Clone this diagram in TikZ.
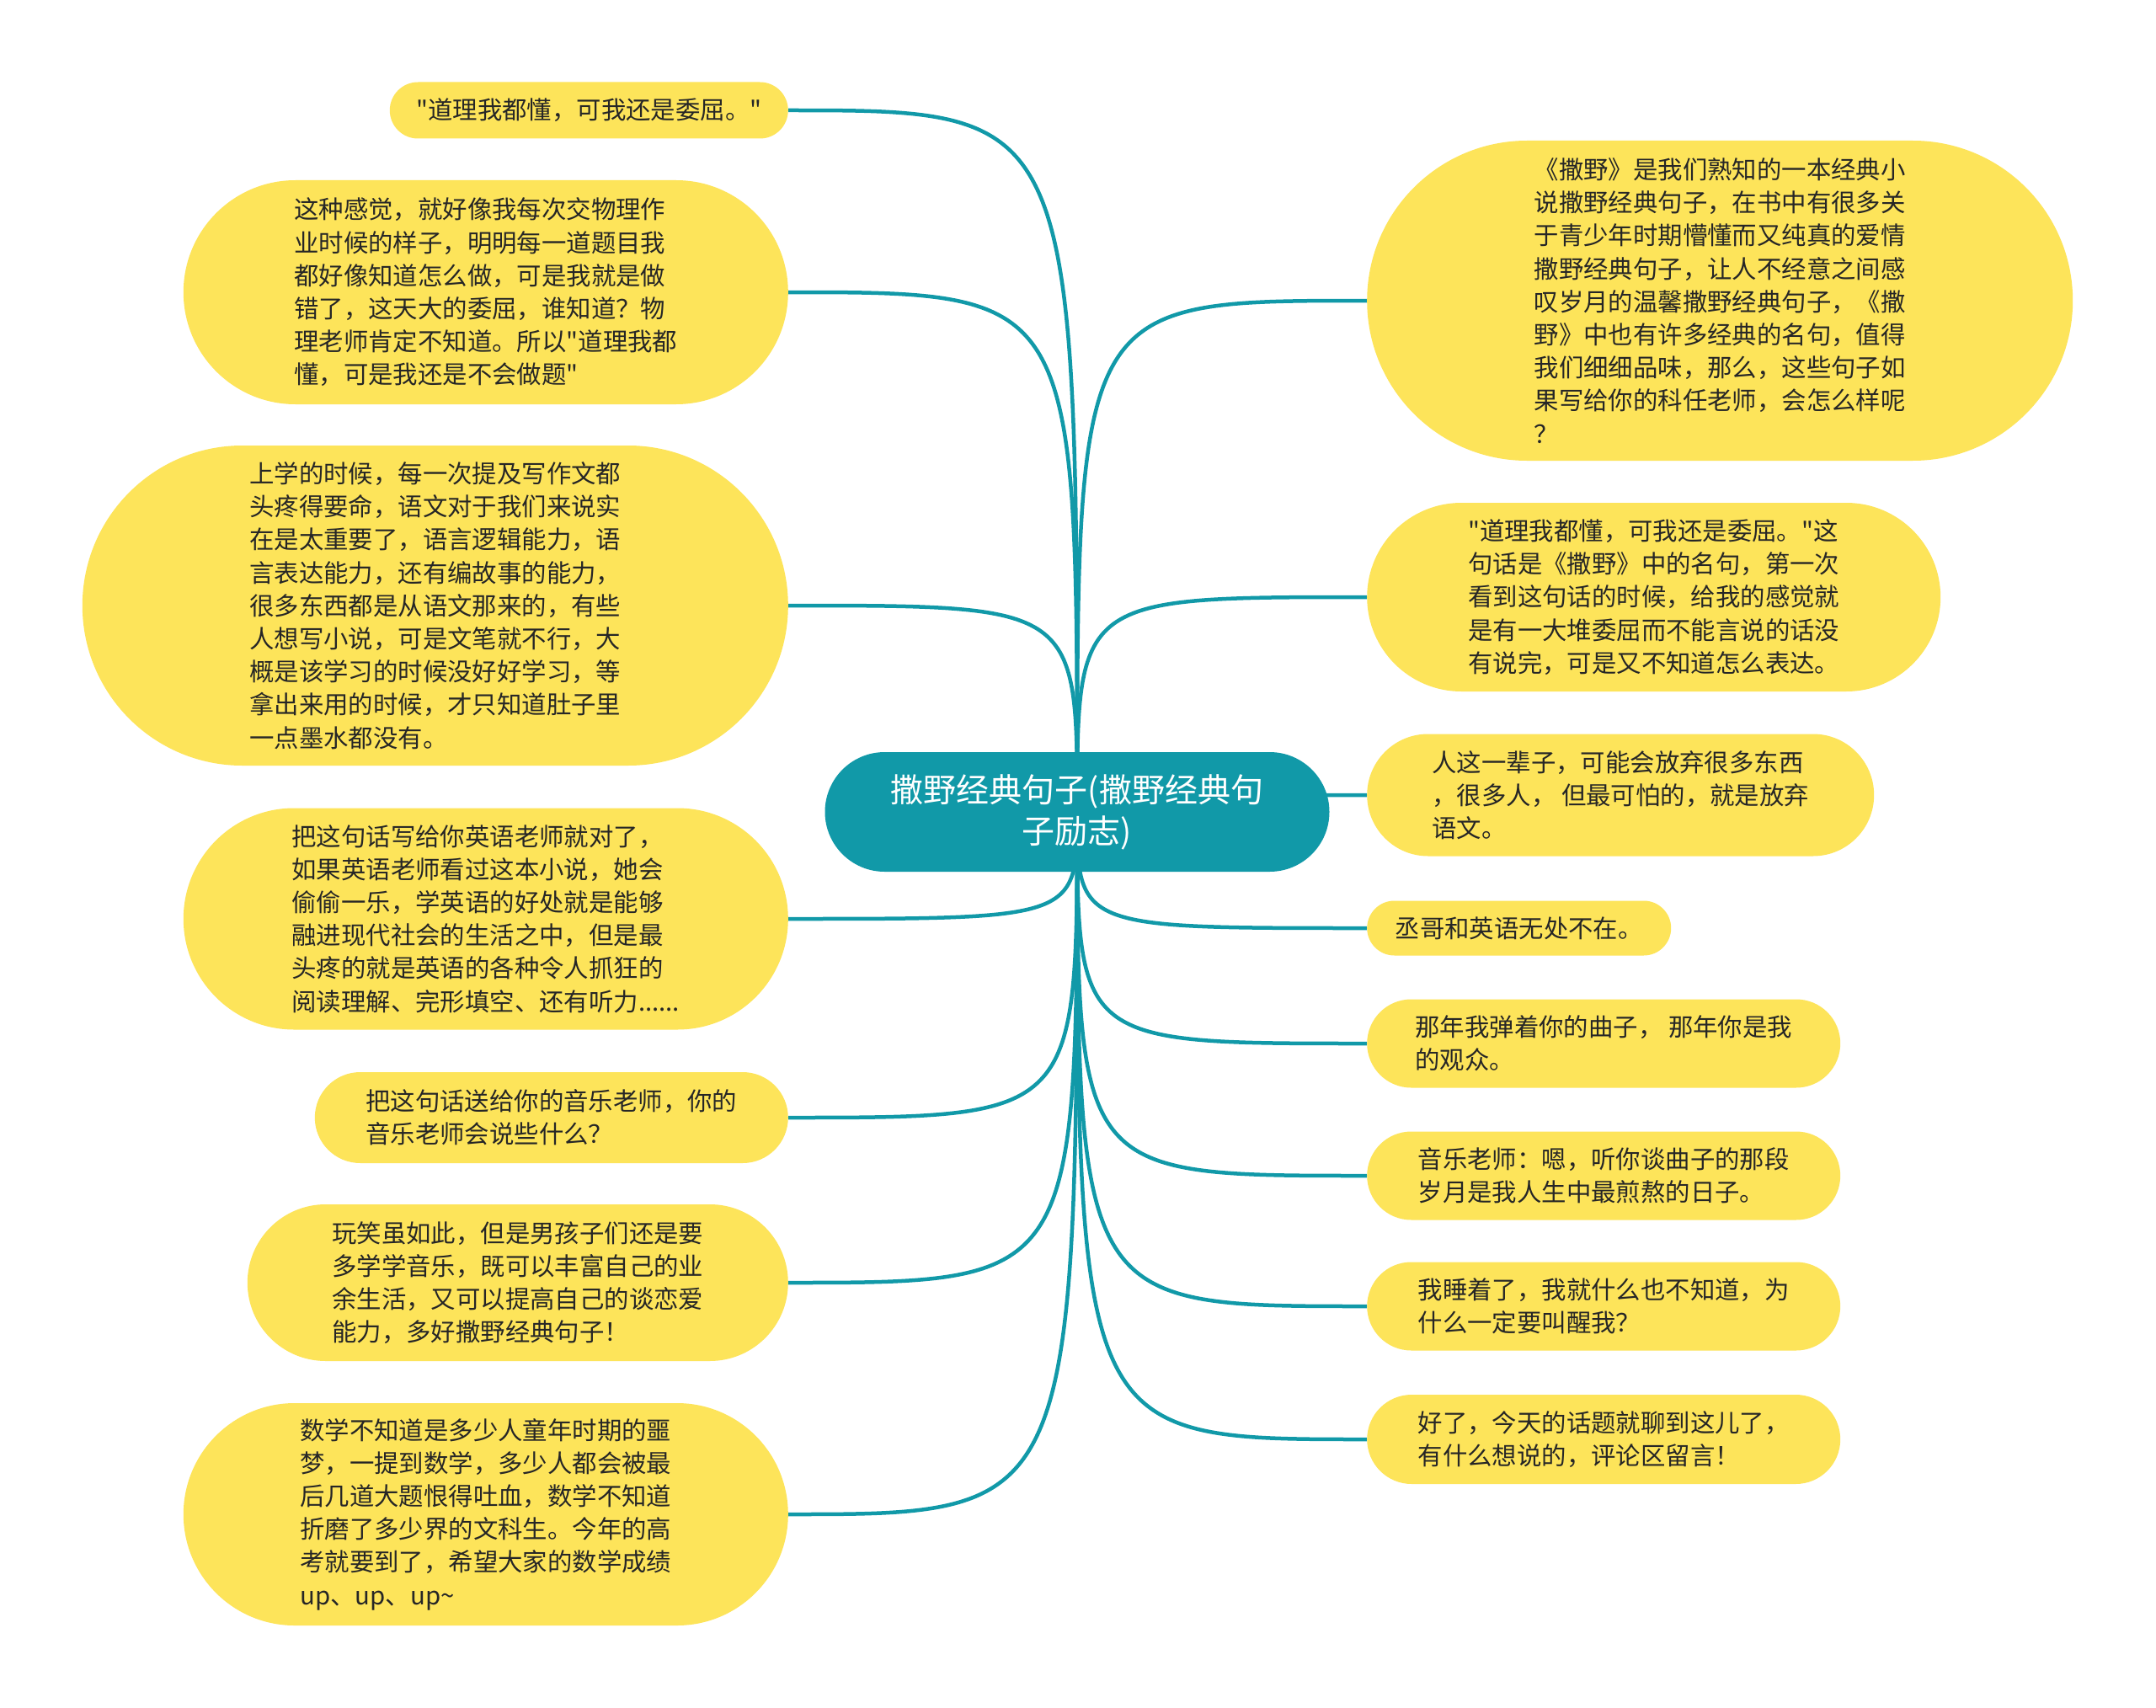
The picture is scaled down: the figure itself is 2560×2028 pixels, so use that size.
\documentclass[tikz,border=0pt]{standalone}
\usepackage{fontspec}
\setmainfont{Noto Sans CJK SC}
\usepackage{tikz}
\usetikzlibrary{shapes.misc,backgrounds}
\usepackage{xcolor}
\definecolor{mapteal}{HTML}{1199A8}
\definecolor{mapyellow}{HTML}{FDE45A}
\definecolor{maptext}{HTML}{262626}

\tikzset{
  topic/.style={rounded rectangle, fill=mapteal, text=white, inner sep=0pt,
    align=center, font=\fontsize{39}{49}\selectfont},
  leaf/.style={rounded rectangle, fill=mapyellow, text=maptext, inner sep=0pt,
    align=left, font=\fontsize{29.4}{39.2}\selectfont},
  branch/.style={mapteal, line width=4.5pt},
}
\newcommand{\qt}{\textquotedbl}

\begin{document}
\begin{tikzpicture}[x=1pt, y=-1pt]
  \useasboundingbox (0,0) rectangle (2560,2028);

  % Central topic
  \node[topic, minimum width=599pt, minimum height=142pt] (root) at (1279,964)
    {撒野经典句子(撒野经典句\\子励志)};

  % Left branch
  \node[leaf, anchor=east, minimum width=473pt, minimum height=67pt] (l1) at (936,131)
    {\qt 道理我都懂，可我还是委屈。\qt};
  \node[leaf, anchor=east, minimum width=718pt, minimum height=266pt] (l2) at (936,347)
    {这种感觉，就好像我每次交物理作\\业时候的样子，明明每一道题目我\\都好像知道怎么做，可是我就是做\\错了，这天大的委屈，谁知道？物\\理老师肯定不知道。所以\qt 道理我都\\懂，可是我还是不会做题\qt};
  \node[leaf, anchor=east, minimum width=838pt, minimum height=380pt] (l3) at (936,719)
    {上学的时候，每一次提及写作文都\\头疼得要命，语文对于我们来说实\\在是太重要了，语言逻辑能力，语\\言表达能力，还有编故事的能力，\\很多东西都是从语文那来的，有些\\人想写小说，可是文笔就不行，大\\概是该学习的时候没好好学习，等\\拿出来用的时候，才只知道肚子里\\一点墨水都没有。};
  \node[leaf, anchor=east, minimum width=718pt, minimum height=263pt] (l4) at (936,1091)
    {把这句话写给你英语老师就对了，\\如果英语老师看过这本小说，她会\\偷偷一乐，学英语的好处就是能够\\融进现代社会的生活之中，但是最\\头疼的就是英语的各种令人抓狂的\\阅读理解、完形填空、还有听力......};
  \node[leaf, anchor=east, minimum width=562pt, minimum height=108pt] (l5) at (936,1327)
    {把这句话送给你的音乐老师，你的\\音乐老师会说些什么？};
  \node[leaf, anchor=east, minimum width=642pt, minimum height=186pt] (l6) at (936,1523)
    {玩笑虽如此，但是男孩子们还是要\\多学学音乐，既可以丰富自己的业\\余生活，又可以提高自己的谈恋爱\\能力，多好撒野经典句子！};
  \node[leaf, anchor=east, minimum width=718pt, minimum height=264pt] (l7) at (936,1798)
    {数学不知道是多少人童年时期的噩\\梦，一提到数学，多少人都会被最\\后几道大题恨得吐血，数学不知道\\折磨了多少界的文科生。今年的高\\考就要到了，希望大家的数学成绩\\up、up、up\textasciitilde};

  % Right branch
  \node[leaf, anchor=west, minimum width=838pt, minimum height=380pt] (r1) at (1623,357)
    {《撒野》是我们熟知的一本经典小\\说撒野经典句子，在书中有很多关\\于青少年时期懵懂而又纯真的爱情\\撒野经典句子，让人不经意之间感\\叹岁月的温馨撒野经典句子，《撒\\野》中也有许多经典的名句，值得\\我们细细品味，那么，这些句子如\\果写给你的科任老师，会怎么样呢\\？};
  \node[leaf, anchor=west, minimum width=681pt, minimum height=224pt] (r2) at (1623,709)
    {\qt 道理我都懂，可我还是委屈。\qt 这\\句话是《撒野》中的名句，第一次\\看到这句话的时候，给我的感觉就\\是有一大堆委屈而不能言说的话没\\有说完，可是又不知道怎么表达。};
  \node[leaf, anchor=west, minimum width=602pt, minimum height=145pt] (r3) at (1623,944)
    {人这一辈子，可能会放弃很多东西\\，很多人， 但最可怕的，就是放弃\\语文。};
  \node[leaf, anchor=west, minimum width=361pt, minimum height=65pt] (r4) at (1623,1102)
    {丞哥和英语无处不在。};
  \node[leaf, anchor=west, minimum width=562pt, minimum height=105pt] (r5) at (1623,1239)
    {那年我弹着你的曲子， 那年你是我\\的观众。};
  \node[leaf, anchor=west, minimum width=562pt, minimum height=105pt] (r6) at (1623,1396)
    {音乐老师：嗯，听你谈曲子的那段\\岁月是我人生中最煎熬的日子。};
  \node[leaf, anchor=west, minimum width=562pt, minimum height=105pt] (r7) at (1623,1551)
    {我睡着了，我就什么也不知道，为\\什么一定要叫醒我？};
  \node[leaf, anchor=west, minimum width=562pt, minimum height=106pt] (r8) at (1623,1709)
    {好了，今天的话题就聊到这儿了，\\有什么想说的，评论区留言！};

  % Branch curves behind the nodes
  \begin{pgfonlayer}{background}
    \fill[white] (0,0) rectangle (2560,2028);
    \foreach \leaf in {l1,l2,l3,l4,l5,l6,l7}
      \draw[branch] (root.center) .. controls (root.center |- \leaf.east) .. (\leaf.east);
    \foreach \leaf in {r1,r2,r3,r4,r5,r6,r7,r8}
      \draw[branch] (root.center) .. controls (root.center |- \leaf.west) .. (\leaf.west);
  \end{pgfonlayer}
\end{tikzpicture}
\end{document}
